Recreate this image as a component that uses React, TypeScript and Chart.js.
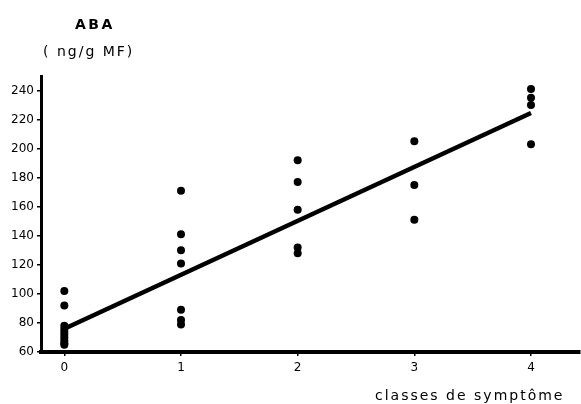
import React, { useEffect, useRef } from "react";
import { Chart, registerables } from "chart.js";

Chart.register(...registerables);

// Symptom classes (x) and ABA measurements (ng/g MF) for each class
const symptomClasses = [0, 1, 2, 3, 4];
const abaClass0 = [102, 92, 78, 76, 74, 72, 70, 68, 66, 65];
const abaClass1 = [171, 141, 130, 121, 89, 82, 79];
const abaClass2 = [192, 177, 158, 132, 128];
const abaClass3 = [205, 175, 151];
const abaClass4 = [241, 235, 230, 203];
const abaByClass = [abaClass0, abaClass1, abaClass2, abaClass3, abaClass4];

// Regression line end points
const regressionX = [0, 4];
const regressionY = [76, 224.5];

// Axis ticks
const xTicks = [0, 1, 2, 3, 4];
const yTicks = [60, 80, 100, 120, 140, 160, 180, 200, 220, 240];

const yTitle = "ABA";
const yUnit = "( ng/g MF)";
const xTitle = "classes de symptôme";

export default function App() {
  const canvasRef = useRef<HTMLCanvasElement | null>(null);

  useEffect(() => {
    const canvas = canvasRef.current;
    if (!canvas) return;

    const points: { x: number; y: number }[] = [];
    symptomClasses.forEach((c, i) => {
      abaByClass[i].forEach((v) => points.push({ x: c, y: v }));
    });
    const regression = regressionX.map((x, i) => ({ x, y: regressionY[i] }));

    const textPlugin = {
      id: "texts",
      afterDraw(chart: any) {
        const ctx = chart.ctx as CanvasRenderingContext2D;
        ctx.save();
        ctx.fillStyle = "#000";
        ctx.textBaseline = "middle";
        ctx.textAlign = "left";
        (ctx as any).letterSpacing = "2.5px";
        ctx.font = 'bold 14px "DejaVu Sans"';
        ctx.fillText(yTitle, 75, 25);
        (ctx as any).letterSpacing = "2px";
        ctx.font = '14px "DejaVu Sans"';
        ctx.fillText(yUnit, 43, 52);
        (ctx as any).letterSpacing = "2px";
        ctx.font = '14px "DejaVu Sans"';
        ctx.fillText(xTitle, 375, 396);
        ctx.restore();
      },
    };

    const chart = new Chart(canvas, {
      type: "scatter",
      data: {
        datasets: [
          {
            type: "line",
            data: regression,
            borderColor: "#000",
            borderWidth: 4.5,
            pointRadius: 0,
            fill: false,
            showLine: true,
            order: 1,
          } as any,
          {
            type: "scatter",
            data: points,
            backgroundColor: "#000",
            borderColor: "#000",
            borderWidth: 0,
            pointRadius: 4,
            order: 0,
          },
        ],
      },
      options: {
        responsive: false,
        animation: false,
        events: [],
        layout: { padding: { top: 76, right: 1, left: 0, bottom: 0 } },
        plugins: {
          legend: { display: false },
          tooltip: { enabled: false },
          title: { display: false },
        },
        scales: {
          x: {
            type: "linear",
            min: -0.2,
            max: 4.42,
            afterFit(scale: any) {
              scale.height = 52;
            },
            afterBuildTicks(scale: any) {
              scale.ticks = xTicks.map((v) => ({ value: v }));
            },
            ticks: {
              color: "#000",
              font: { family: "DejaVu Sans", size: 12 },
              padding: 5,
              maxRotation: 0,
            },
            grid: {
              display: true,
              drawOnChartArea: false,
              drawTicks: true,
              tickLength: 4,
              color: "#000",
              lineWidth: 1.5,
            },
            border: { display: true, color: "#000", width: 4 },
          },
          y: {
            type: "linear",
            min: 60,
            max: 250,
            afterFit(scale: any) {
              scale.width = 41;
            },
            afterBuildTicks(scale: any) {
              scale.ticks = yTicks.map((v) => ({ value: v }));
            },
            ticks: {
              color: "#000",
              font: { family: "DejaVu Sans", size: 12 },
              padding: 3,
            },
            grid: {
              display: true,
              drawOnChartArea: false,
              drawTicks: true,
              tickLength: 4,
              color: "#000",
              lineWidth: 1.5,
            },
            border: { display: true, color: "#000", width: 3 },
          },
        },
      },
      plugins: [textPlugin],
    });

    return () => chart.destroy();
  }, []);

  return (
    <div style={{ position: "fixed", left: 0, top: 0, width: 581, height: 404, background: "#fff", overflow: "hidden" }}>
      <canvas ref={canvasRef} width={584} height={404} style={{ display: "block" }} />
    </div>
  );
}
